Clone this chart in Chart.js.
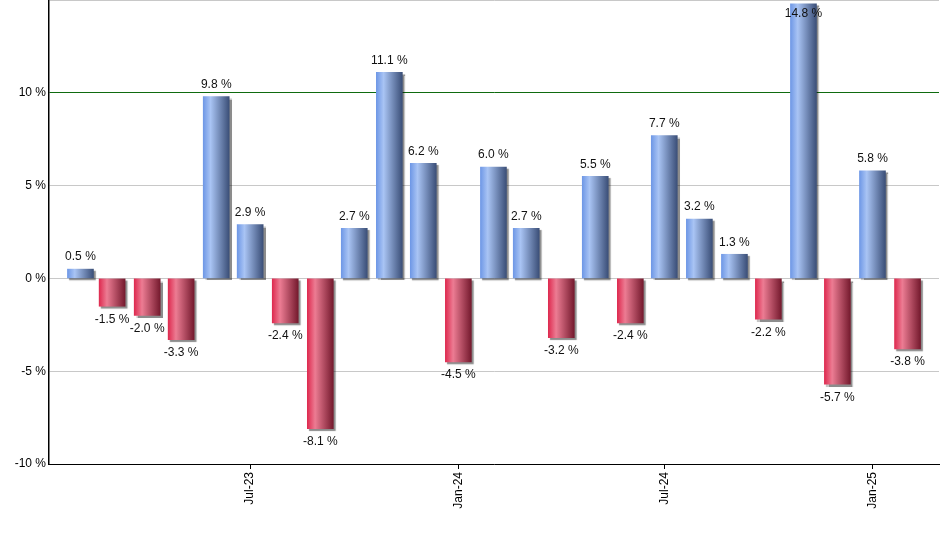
<!DOCTYPE html>
<html>
<head>
<meta charset="utf-8">
<script src="https://cdn.jsdelivr.net/npm/chart.js@4"></script>
<style>
  html, body { margin: 0; padding: 0; background: #fff; }
  #chart { display: block; }
</style>
</head>
<body>
<canvas id="chart" width="940" height="550"></canvas>
<script>
// monthly returns, Feb-23 .. Feb-25
const months = ["2023-02","2023-03","2023-04","2023-05","2023-06","2023-07","2023-08","2023-09","2023-10","2023-11","2023-12",
                "2024-01","2024-02","2024-03","2024-04","2024-05","2024-06","2024-07","2024-08","2024-09","2024-10","2024-11","2024-12",
                "2025-01","2025-02"];
const returns = [0.5, -1.5, -2.0, -3.3, 9.8, 2.9, -2.4, -8.1, 2.7, 11.1, 6.2, -4.5, 6.0, 2.7, -3.2, 5.5, -2.4, 7.7, 3.2, 1.3, -2.2, 14.8, -5.7, 5.8, -3.8];
const xTickMonths = ["2023-07","2024-01","2024-07","2025-01"];
const monthNames = ["Jan","Feb","Mar","Apr","May","Jun","Jul","Aug","Sep","Oct","Nov","Dec"];
const yTicks = [-10, -5, 0, 5, 10, 15];

// month string -> day number
function toDay(m) {
    const p = m.split("-");
    return Date.UTC(+p[0], +p[1] - 1, 1) / 86400000;
}
function monthLabel(day) {
    const d = new Date(day * 86400000);
    return monthNames[d.getUTCMonth()] + "-" + String(d.getUTCFullYear()).slice(2);
}

const points = months.map((m, i) => ({ x: toDay(m), y: returns[i] }));
const BAR_W = 26;

function barFill(ctx) {
    const chart = ctx.chart;
    const v = ctx.raw ? ctx.raw.y : 0;
    if (!chart.chartArea || !chart.scales.x) return v >= 0 ? "#7fa3ea" : "#d84060";
    const cx = chart.scales.x.getPixelForValue(ctx.raw.x);
    const g = chart.ctx.createLinearGradient(cx - BAR_W / 2, 0, cx + BAR_W / 2, 0);
    if (v >= 0) {
        g.addColorStop(0, "#6f98e6");
        g.addColorStop(0.28, "#a9c4f4");
        g.addColorStop(1, "#3b4f78");
    } else {
        g.addColorStop(0, "#de2b50");
        g.addColorStop(0.3, "#ec7c93");
        g.addColorStop(1, "#751a2e");
    }
    return g;
}

const shadowPlugin = {
    id: "barShadow",
    beforeDatasetsDraw(chart) {
        const c = chart.ctx;
        c.save();
        c.shadowColor = "rgba(0,0,0,0.45)";
        c.shadowOffsetX = 2;
        c.shadowOffsetY = 2;
        c.shadowBlur = 1;
    },
    afterDatasetsDraw(chart) {
        chart.ctx.restore();
    }
};

const labelPlugin = {
    id: "barLabels",
    afterDatasetsDraw(chart) {
        const c = chart.ctx;
        const meta = chart.getDatasetMeta(0);
        c.save();
        c.font = "12px 'Liberation Sans', Arial, sans-serif";
        c.fillStyle = "#111";
        c.textAlign = "center";
        c.textBaseline = "middle";
        meta.data.forEach((bar, i) => {
            const v = returns[i];
            let y = v >= 0 ? bar.y - 12 : bar.y + 13;
            y = Math.max(y, chart.chartArea.top + 14);
            c.fillText(v.toFixed(1) + " %", bar.x, y);
        });
        c.restore();
    }
};

const firstDay = toDay(months[0]);
const lastDay = toDay(months[months.length - 1]);

new Chart(document.getElementById("chart"), {
    type: "bar",
    data: {
        datasets: [{
            data: points,
            backgroundColor: barFill,
            borderWidth: 0,
            barThickness: BAR_W
        }]
    },
    options: {
        responsive: false,
        animation: false,
        layout: { padding: { top: 0, right: 1, left: 0, bottom: 0 } },
        plugins: { legend: { display: false }, tooltip: { enabled: false } },
        scales: {
            x: {
                type: "linear",
                offset: false,
                min: firstDay - 27.8,
                max: lastDay + 27.8,
                afterBuildTicks: function(scale) {
                    scale.ticks = xTickMonths.map(m => ({ value: toDay(m) }));
                },
                afterFit: function(scale) { scale.height = 86; },
                grid: { offset: false, drawOnChartArea: false, drawTicks: true, tickLength: 5, color: "#000" },
                border: { color: "#000", width: 1 },
                ticks: {
                    autoSkip: false,
                    maxRotation: 90,
                    minRotation: 90,
                    padding: 3,
                    color: "#000",
                    font: { family: "'Liberation Sans', Arial, sans-serif", size: 12 },
                    callback: function(v) { return monthLabel(v); }
                }
            },
            y: {
                min: -10,
                max: 15,
                afterBuildTicks: function(scale) {
                    scale.ticks = yTicks.map(v => ({ value: v }));
                },
                afterFit: function(scale) {
                    scale.width = 49;
                    scale.paddingTop = 0;
                },
                grid: {
                    drawTicks: false,
                    color: function(ctx) { return ctx.tick && ctx.tick.value === 10 ? "#0f6b0f" : "#c8c8c8"; },
                    lineWidth: 1
                },
                border: { color: "#000", width: 1.5 },
                ticks: {
                    padding: 3,
                    color: "#000",
                    font: { family: "'Liberation Sans', Arial, sans-serif", size: 12 },
                    callback: function(v) { return v === 15 ? "" : v + " %"; }
                }
            }
        }
    },
    plugins: [shadowPlugin, labelPlugin]
});
</script>
</body>
</html>
